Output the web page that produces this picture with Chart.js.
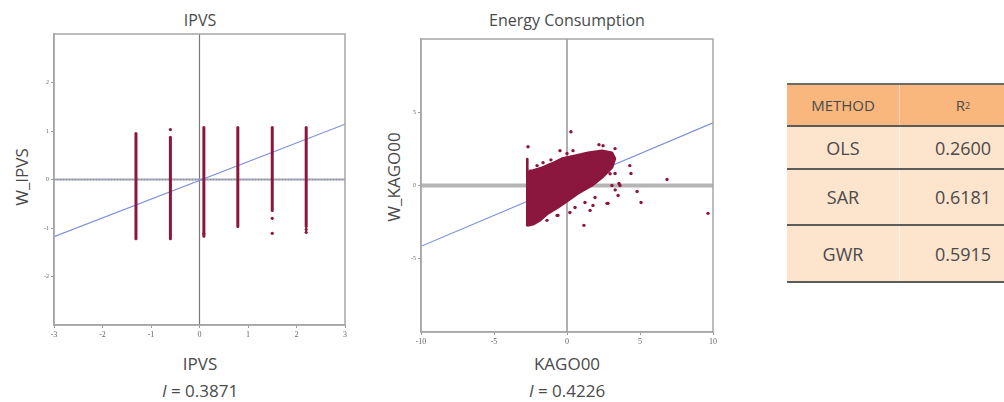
<!DOCTYPE html>
<html><head><meta charset="utf-8">
<script src="https://cdn.jsdelivr.net/npm/chart.js@4.4.1/dist/chart.umd.min.js"></script>
<style>
body{margin:0;width:1004px;height:402px;background:#fff;position:relative;overflow:hidden;font-family:"Open Sans",sans-serif;color:#4a4a4a}
.t{position:absolute;white-space:nowrap;transform:translate(-50%,-50%);line-height:1}
.yl{position:absolute;white-space:nowrap;transform:translate(-50%,-50%) rotate(-90deg);line-height:1;font-size:17px}
.title{font-size:16px}
.xl{font-size:17px}
#c1{position:absolute;left:30px;top:24px}
#c2{position:absolute;left:395px;top:28px}
#tbl{position:absolute;left:787px;top:83px;width:240px}
#tbl .row{display:flex;background:#fde4cd;border-bottom:2px solid #5c5c5c}
#tbl .row div{display:flex;align-items:center;justify-content:center}
#tbl .row div:first-child{width:112px}
#tbl .row div:last-child{width:126px;border-left:1px solid rgba(255,255,255,0.55)}
#tbl .hdr{background:#f9b77e;border-top:2px solid #6b6b6b;height:40px;font-size:15px}
#tbl .r0{height:41px;font-size:18px}
#tbl .r1{height:54px;font-size:18px}
#tbl .r2{height:55px;font-size:18px}
</style></head>
<body>
<div class="t title" style="left:200px;top:20px" id="tt1"></div>
<div class="t title" style="left:567px;top:20px" id="tt2"></div>
<div class="t xl" style="left:200px;top:363px" id="xl1"></div>
<div class="t xl" style="left:200px;top:390px" id="mi1"></div>
<div class="t xl" style="left:567px;top:363px" id="xl2"></div>
<div class="t xl" style="left:567px;top:390px" id="mi2"></div>
<div class="yl" style="left:21px;top:177px" id="yl1"></div>
<div class="yl" style="left:393px;top:177px" id="yl2"></div>
<canvas id="c1" width="330" height="320"></canvas>
<canvas id="c2" width="330" height="330"></canvas>
<div id="tbl"></div>
<script>
// ---- Left panel: IPVS ----
const ipvsTitle = 'IPVS';
const ipvsXLabel = 'IPVS';
const ipvsYLabel = 'W_IPVS';
const ipvsMoran = '0.3871';
const ipvsXTicks = [-3, -2, -1, 0, 1, 2, 3];
const ipvsYTicks = [-2, -1, 0, 1, 2];
const ipvsColX = [-1.31, -0.60, 0.09, 0.79, 1.50, 2.20];
const ipvsColLow = [-1.22, -1.22, -1.17, -0.97, -0.64, -0.97];
const ipvsColHigh = [0.95, 0.87, 1.07, 1.07, 1.07, 1.07];
const ipvsOutX = [-0.60, 1.50, 2.20, 2.20, 1.50, 0.09];
const ipvsOutY = [1.03, -1.11, -1.09, -1.03, -0.80, -1.12];
const ipvsFitX = [-3, 3];
const ipvsFitY = [-1.18, 1.14];

// ---- Middle panel: Energy Consumption ----
const kagoTitle = 'Energy Consumption';
const kagoXLabel = 'KAGO00';
const kagoYLabel = 'W_KAGO00';
const kagoMoran = '0.4226';
const kagoXTicks = [-10, -5, 0, 5, 10];
const kagoYTicks = [-5, 0, 5];
const kagoBlobX = [-2.62, -2.33, -1.71, -1.03, -0.34, 0.55, 1.44, 2.40, 3.08, 3.29, 3.08, 2.40, 1.71, 0.75, 0.07, -0.62, -1.30, -1.85, -2.33, -2.62, -2.62];
const kagoBlobY = [1.00, 1.02, 1.22, 1.50, 1.84, 2.04, 2.24, 2.38, 2.24, 1.84, 1.22, 0.54, 0.00, -0.54, -1.02, -1.50, -1.90, -2.38, -2.65, -2.72, 1.00];
const kagoStripX = [-2.72, -2.72];
const kagoStripY = [-2.72, 1.80];
const kagoOutX = [0.27, -2.67, 2.19, 4.30, 4.38, 6.85, 3.56, 2.95, -1.64, -2.05, 3.50, 4.80, 5.07, 9.66, 1.16, 2.74, 1.78, 0.20, 1.58, 3.63, -0.62, 3.30, 2.47, 3.29, -0.48, 0.00, 0.41, 3.29, 3.08, 2.81, 1.92, 1.23, 0.55, -1.37, -0.68, -1.10];
const kagoOutY = [3.67, 2.65, 2.79, 1.36, 0.82, 0.41, 0.14, 0.80, 1.56, 1.36, -0.68, -0.41, -1.16, -1.90, -2.72, -1.22, -1.36, -1.84, -1.70, 0.00, -2.04, -0.30, 2.72, 2.52, 2.38, 2.18, 2.38, 0.82, 0.00, -1.22, -0.82, -1.16, -1.50, -2.38, -2.04, 1.75];
const kagoFitX = [-10, 10];
const kagoFitY = [-4.15, 4.28];

// ---- Table ----
const methods = ['OLS', 'SAR', 'GWR'];
const r2Values = ['0.2600', '0.6181', '0.5915'];
const tableHeader = ['METHOD', 'R<sup style="font-size:9px">2</sup>'];

const CRIMSON = 'rgb(139,22,62)';
const FIT = 'rgba(110,130,215,0.9)';

document.getElementById('tt1').textContent = ipvsTitle;
document.getElementById('tt2').textContent = kagoTitle;
document.getElementById('xl1').textContent = ipvsXLabel;
document.getElementById('xl2').textContent = kagoXLabel;
document.getElementById('yl1').textContent = ipvsYLabel;
document.getElementById('yl2').textContent = kagoYLabel;
document.getElementById('mi1').innerHTML = '<i>I</i> = ' + ipvsMoran;
document.getElementById('mi2').innerHTML = '<i>I</i> = ' + kagoMoran;

const tbl = document.getElementById('tbl');
let html = '<div class="row hdr"><div>' + tableHeader[0] + '</div><div>' + tableHeader[1] + '</div></div>';
methods.forEach((m, i) => {
  html += '<div class="row r' + i + '"><div>' + m + '</div><div>' + r2Values[i] + '</div></div>';
});
tbl.innerHTML = html;

const pts = (xs, ys) => xs.map((x, i) => ({x: x, y: ys[i]}));

const framePlugin = {
  id: 'frame',
  afterDatasetsDraw(chart) {
    const {ctx, chartArea: a} = chart;
    ctx.save();
    ctx.strokeStyle = '#a6a6a6';
    ctx.lineWidth = 1.5;
    ctx.strokeRect(a.left, a.top, a.right - a.left, a.bottom - a.top);
    ctx.restore();
  }
};

function lineDs(data, color, width, extra) {
  return Object.assign({data: data, showLine: true, borderColor: color, borderWidth: width,
    pointRadius: 0, fill: false, tension: 0}, extra || {});
}

function axisOpts(min, max, tickVals, fit, isX) {
  return {
    type: 'linear', min: min, max: max,
    afterBuildTicks(s) { s.ticks = tickVals.map(v => ({value: v})); },
    afterFit(s) { if (isX) s.height = fit; else s.width = fit; },
    ticks: {color: '#666', font: {family: 'Liberation Serif', size: isX ? 8 : 6}, padding: 2, maxRotation: 0, minRotation: 0},
    grid: {display: true, drawOnChartArea: false, drawTicks: true, tickLength: 3, color: '#999'},
    border: {display: true, color: '#a6a6a6', width: 1.5}
  };
}

// Left chart
const ds1 = [];
ipvsColX.forEach((x, i) => {
  ds1.push(lineDs([{x: x, y: ipvsColLow[i]}, {x: x, y: ipvsColHigh[i]}], CRIMSON, 3, {borderCapStyle: 'round'}));
});
ds1.push({data: pts(ipvsOutX, ipvsOutY), showLine: false, pointRadius: 1.6, pointBackgroundColor: CRIMSON, pointBorderWidth: 0});
ds1.push(lineDs(pts(ipvsFitX, ipvsFitY), FIT, 1.2));
ds1.push(lineDs([{x: -3, y: 0}, {x: 3, y: 0}], 'rgba(120,140,220,0.75)', 1.5, {borderDash: [1, 2]}));
ds1.push(lineDs([{x: -3, y: 0}, {x: 3, y: 0}], '#a8a8a8', 2));
ds1.push(lineDs([{x: 0, y: -3}, {x: 0, y: 3}], '#7a7a7a', 1.2));

new Chart(document.getElementById('c1'), {
  type: 'line',
  data: {datasets: ds1},
  options: {
    responsive: false, animation: false,
    layout: {padding: {top: 10, right: 15, left: 0, bottom: 0}},
    plugins: {legend: {display: false}, tooltip: {enabled: false}},
    scales: {
      x: axisOpts(-3, 3, ipvsXTicks, 19, true),
      y: axisOpts(-3, 3, ipvsYTicks, 24, false)
    }
  },
  plugins: [framePlugin]
});

// Middle chart
const ds2 = [];
ds2.push({data: pts(kagoOutX, kagoOutY), showLine: false, pointRadius: 1.7, pointBackgroundColor: CRIMSON, pointBorderWidth: 0});
ds2.push(lineDs(pts(kagoBlobX, kagoBlobY), CRIMSON, 2.5, {fill: 'shape', backgroundColor: CRIMSON, borderJoinStyle: 'round'}));
ds2.push(lineDs(pts(kagoStripX, kagoStripY), CRIMSON, 2.6, {borderCapStyle: 'round'}));
ds2.push(lineDs(pts(kagoFitX, kagoFitY), FIT, 1.2));
ds2.push(lineDs([{x: -10, y: 0}, {x: 10, y: 0}], '#b5b5b5', 4));
ds2.push(lineDs([{x: 0, y: -10}, {x: 0, y: 10}], '#7a7a7a', 1.2));

new Chart(document.getElementById('c2'), {
  type: 'line',
  data: {datasets: ds2},
  options: {
    responsive: false, animation: false,
    layout: {padding: {top: 11, right: 12, left: 0, bottom: 0}},
    plugins: {legend: {display: false}, tooltip: {enabled: false}},
    scales: {
      x: axisOpts(-10, 10, kagoXTicks, 26, true),
      y: axisOpts(-10, 10, kagoYTicks, 26, false)
    }
  },
  plugins: [framePlugin]
});
</script>
</body></html>
